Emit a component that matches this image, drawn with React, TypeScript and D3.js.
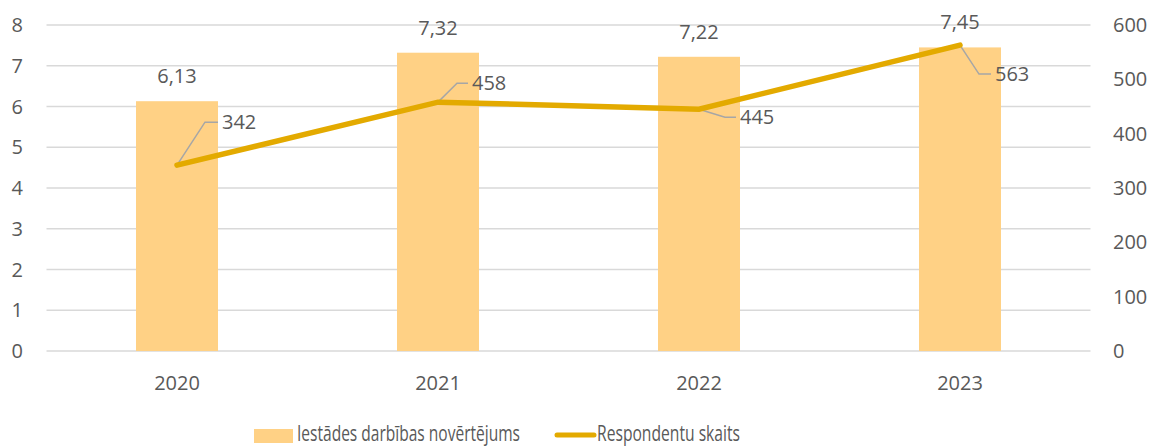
import * as d3 from "d3";

const years = ["2020", "2021", "2022", "2023"];
const ratings = [6.13, 7.32, 7.22, 7.45];
const respondents = [342, 458, 445, 563];
const leftTicks = [0, 1, 2, 3, 4, 5, 6, 7, 8];
const rightTicks = [0, 100, 200, 300, 400, 500, 600];
// leader line offsets [dx1, dy1, dx2] relative to the point, label follows
const leaders = [
  [28, -43, 13],
  [19, -19, 11],
  [26, 8, 11],
  [19, 29, 12],
];

const BAR = "#FFD185";
const LINE = "#E3AA00";
const TEXT = "#595959";
const FONT = "'Open Sans', sans-serif";

export default function App() {
  const width = 1152;
  const height = 446;
  const left = 46.5;
  const right = 1090.5;
  const top = 25;
  const bottom = 351;

  const x = d3.scaleBand().domain(years).range([left, right]).paddingInner(0).paddingOuter(0);
  const yL = d3.scaleLinear().domain([0, 8]).range([bottom, top]);
  const yR = d3.scaleLinear().domain([0, 600]).range([bottom, top]);
  const barW = 82;
  const cx = (d: string) => (x(d) ?? 0) + x.bandwidth() / 2;

  const line = d3
    .line<number>()
    .x((_, i) => cx(years[i]))
    .y((d) => yR(d));

  return (
    <svg width={width} height={height} style={{ position: "absolute", left: 0, top: 0 }} fontFamily={FONT}>
      <rect width={width} height={height} fill="#fff" />
      {leftTicks.map((t) => (
        <line key={t} x1={left} x2={right} y1={yL(t)} y2={yL(t)} stroke="#D9D9D9" strokeWidth={1.5} />
      ))}
      {leftTicks.map((t) => (
        <text key={t} x={23} y={yL(t)} dy="0.35em" textAnchor="end" fontSize={20} fill={TEXT}>
          {t}
        </text>
      ))}
      {rightTicks.map((t) => (
        <text key={t} x={1113} y={yR(t)} dy="0.35em" textAnchor="start" fontSize={20} fill={TEXT}>
          {t}
        </text>
      ))}
      {years.map((yr) => (
        <text key={yr} x={cx(yr)} y={383} dy="0.35em" textAnchor="middle" fontSize={20} fill={TEXT}>
          {yr}
        </text>
      ))}
      {years.map((yr, i) => (
        <rect key={yr} x={cx(yr) - barW / 2} y={yL(ratings[i])} width={barW} height={bottom - yL(ratings[i])} fill={BAR} />
      ))}
      {years.map((yr, i) => (
        <text key={yr} x={cx(yr)} y={yL(ratings[i]) - 25} dy="0.35em" textAnchor="middle" fontSize={20} fill={TEXT}>
          {String(ratings[i]).replace(".", ",")}
        </text>
      ))}
      {years.map((yr, i) => {
        const px = cx(yr);
        const py = yR(respondents[i]);
        const [dx1, dy1, dx2] = leaders[i];
        return (
          <polyline
            key={yr}
            points={`${px},${py} ${px + dx1},${py + dy1} ${px + dx1 + dx2},${py + dy1}`}
            fill="none"
            stroke="#A6A6A6"
            strokeWidth={1.5}
          />
        );
      })}
      <path d={line(respondents) ?? ""} fill="none" stroke={LINE} strokeWidth={5.5} strokeLinecap="round" />
      {years.map((yr, i) => {
        const px = cx(yr);
        const py = yR(respondents[i]);
        const [dx1, dy1, dx2] = leaders[i];
        return (
          <text key={yr} x={px + dx1 + dx2 + 4} y={py + dy1} dy="0.35em" fontSize={20} fill={TEXT}>
            {respondents[i]}
          </text>
        );
      })}
      <g>
        <rect x={254} y={429} width={39} height={14} fill={BAR} />
        <text x={297} y={441} fontSize={21} fill={TEXT} textLength={223} lengthAdjust="spacingAndGlyphs">
          Iestādes darbības novērtējums
        </text>
        <line x1={557} x2={594} y1={435} y2={435} stroke={LINE} strokeWidth={5} strokeLinecap="round" />
        <text x={597} y={441} fontSize={21} fill={TEXT} textLength={143} lengthAdjust="spacingAndGlyphs">
          Respondentu skaits
        </text>
      </g>
    </svg>
  );
}
